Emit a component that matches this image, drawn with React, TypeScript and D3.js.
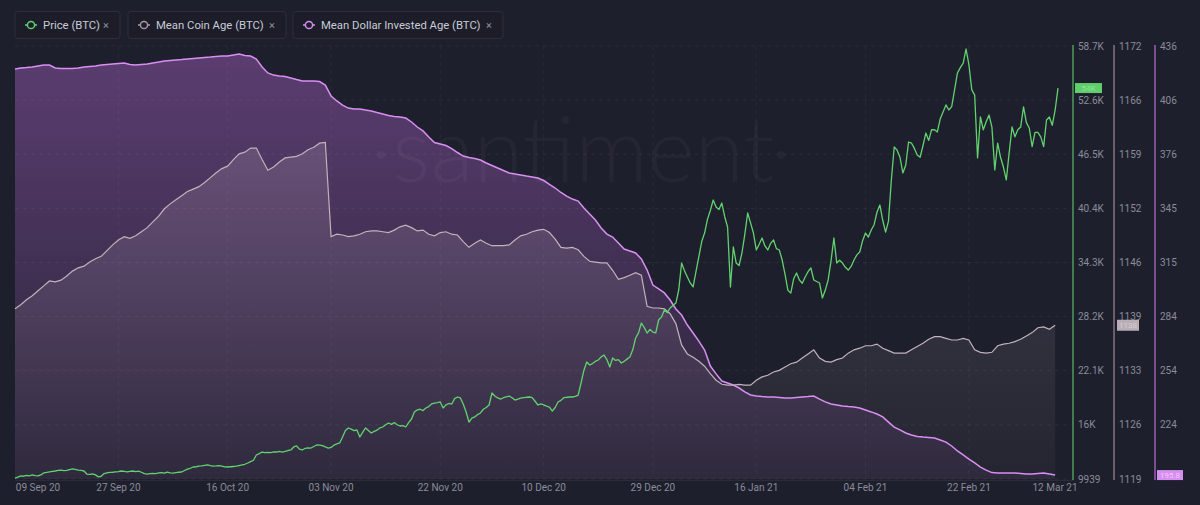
import React from "react";
import * as d3 from "d3";

// ---- DATA ----
const seriesStart = "2020-09-09"; // first sample (UTC)
// BTC price, thousands of USD, one sample every 12 hours from seriesStart
const priceK = [
  10.05,10.15,10.30,10.25,10.35,10.30,10.40,10.33,10.28,10.40,10.62,10.68,10.75,10.80,10.84,10.90,10.95,10.88,10.92,11.00,
  11.07,11.02,10.95,10.90,10.84,10.50,10.45,10.52,10.40,10.18,10.25,10.55,10.62,10.68,10.70,10.74,10.78,10.84,10.80,10.75,
  10.80,10.84,10.78,10.82,10.70,10.55,10.50,10.55,10.58,10.55,10.62,10.66,10.60,10.72,10.62,10.60,10.65,10.70,10.73,10.90,
  11.05,11.15,11.29,11.32,11.38,11.42,11.48,11.52,11.45,11.40,11.42,11.45,11.40,11.30,11.29,11.32,11.35,11.38,11.45,11.52,
  11.60,11.74,11.90,12.05,12.64,12.80,12.98,12.90,12.95,12.92,13.00,12.98,13.05,12.98,13.05,13.15,13.21,13.55,13.66,13.30,
  13.21,13.40,13.45,13.43,13.60,13.77,13.75,13.70,13.55,13.43,13.50,13.75,13.90,14.00,14.67,15.40,15.69,15.55,15.40,15.46,
  14.67,15.20,15.69,15.40,15.12,15.30,15.45,15.69,15.80,16.05,16.25,16.10,16.30,16.05,15.91,15.95,15.80,16.30,16.70,17.50,
  17.72,17.80,17.65,17.94,18.10,18.40,18.50,18.55,18.62,17.94,18.30,18.45,18.39,19.00,19.18,19.07,18.40,17.49,16.36,16.80,
  16.93,17.20,17.38,17.80,18.00,18.28,19.63,19.30,19.07,18.95,19.10,19.20,19.29,19.10,18.84,18.95,19.05,19.10,19.15,19.18,
  19.10,18.70,18.28,18.40,18.30,18.15,18.05,17.60,18.00,18.62,18.80,19.10,19.15,19.18,19.18,19.25,19.40,20.76,22.20,23.12,
  22.79,22.95,23.20,23.35,23.70,23.91,23.40,22.56,23.58,23.30,23.40,23.01,23.20,23.45,23.69,24.50,25.83,26.40,27.52,27.00,
  26.39,26.80,26.50,26.40,27.86,28.20,28.99,28.70,29.21,29.50,29.77,31.24,34.28,33.40,32.70,32.03,31.58,33.30,35.00,36.70,
  37.66,39.20,40.20,41.38,40.59,40.30,41.04,39.50,38.34,31.58,36.09,34.28,34.00,35.41,37.50,39.92,38.80,37.66,35.75,36.40,
  37.10,36.20,35.75,36.50,36.87,35.90,35.75,34.62,33.00,31.20,30.90,32.50,33.16,32.37,32.00,32.70,33.30,33.72,32.37,32.20,
  32.03,30.34,31.20,32.37,34.50,37.10,34.28,34.60,34.28,33.80,33.49,33.90,34.62,35.20,35.52,36.80,37.66,37.20,38.00,38.60,
  40.00,40.82,39.10,37.77,39.00,43.64,47.36,47.00,46.20,44.43,45.30,47.92,47.80,47.20,46.45,46.20,47.50,48.93,48.10,49.30,
  49.30,49.05,50.50,51.30,52.10,51.53,51.90,53.80,55.70,56.30,56.80,58.40,56.60,53.80,53.20,46.12,50.74,49.30,50.20,50.96,
  49.60,44.76,47.80,46.20,45.10,43.64,46.70,49.61,48.50,49.30,49.60,51.87,50.10,49.50,47.40,49.00,49.00,48.50,47.40,50.40,
  50.74,49.80,51.50,54.00,
];
// Mean Coin Age (days), daily from seriesStart
const meanCoinAge = [
  1140.1,1140.6,1141.2,1141.7,1142.3,1142.9,1143.5,1143.4,1143.6,1144.1,
  1144.7,1145.1,1145.3,1145.8,1146.2,1146.5,1147.2,1147.9,1148.5,1148.9,
  1148.7,1149.0,1149.5,1150.0,1150.7,1151.4,1152.3,1152.9,1153.4,1153.9,
  1154.4,1154.7,1155.0,1155.5,1156.1,1156.7,1157.2,1157.5,1158.3,1159.0,
  1159.2,1159.7,1159.7,1158.3,1157.0,1157.4,1158.0,1158.5,1158.6,1158.7,
  1159.0,1159.5,1159.8,1160.3,1160.4,1148.9,1149.2,1149.1,1148.9,1149.0,
  1149.2,1149.5,1149.6,1149.6,1149.5,1149.4,1149.7,1150.1,1150.3,1150.0,
  1149.6,1149.7,1149.2,1149.0,1149.4,1149.5,1149.2,1149.1,1148.3,1147.6,
  1148.1,1148.5,1148.1,1147.8,1147.8,1147.8,1147.9,1148.5,1149.0,1149.2,
  1149.5,1149.7,1149.8,1149.4,1148.6,1147.6,1147.5,1147.6,1147.3,1146.5,
  1145.9,1145.8,1145.7,1145.7,1144.8,1143.7,1143.9,1144.2,1144.5,1144.2,
  1140.4,1140.2,1140.2,1140.1,1139.5,1138.3,1135.7,1134.6,1134.2,1133.7,
  1133.1,1132.2,1131.4,1130.9,1130.8,1130.8,1130.9,1130.8,1130.8,1131.4,
  1131.8,1132.0,1132.4,1132.6,1133.0,1133.4,1133.6,1134.1,1134.6,1135.1,
  1134.1,1133.7,1133.6,1133.9,1134.1,1134.7,1135.1,1135.3,1135.6,1135.6,
  1135.8,1135.3,1135.0,1134.7,1134.7,1134.7,1135.1,1135.5,1135.9,1136.4,
  1136.7,1136.7,1136.5,1136.3,1136.3,1136.5,1136.3,1135.1,1134.8,1134.7,
  1134.8,1135.6,1135.8,1135.9,1136.1,1136.4,1136.8,1137.2,1137.8,1137.9,
  1137.6,1138.1,
];
// Mean Dollar Invested Age (days), daily from seriesStart
const meanDollarInvestedAge = [
  423.4,424.0,424.2,424.5,425.1,425.6,425.6,424.0,423.7,423.7,
  423.7,424.0,424.5,424.8,425.1,425.6,425.9,426.2,426.5,426.8,
  425.9,425.6,425.9,426.2,426.8,427.3,427.9,428.2,428.5,428.7,
  429.0,429.3,429.6,429.9,430.1,430.4,430.7,430.7,431.3,431.8,
  431.0,430.7,429.0,424.5,421.2,420.0,419.5,419.2,418.4,417.5,
  416.7,416.7,416.7,416.4,414.4,408.3,405.5,403.2,401.5,401.0,
  401.0,400.4,399.9,399.0,398.2,397.3,396.8,396.5,395.9,393.7,
  390.9,388.7,385.3,382.2,381.4,380.5,378.8,376.6,374.6,373.8,
  373.2,372.4,370.7,369.3,367.9,366.5,365.1,364.6,364.0,363.4,
  362.9,362.3,360.9,358.7,356.7,354.2,352.2,350.5,349.4,345.5,
  342.1,338.8,334.3,330.9,329.2,325.9,322.5,321.4,320.3,316.9,
  310.7,302.3,300.1,297.9,293.9,288.9,285.5,279.9,275.4,270.9,
  265.9,256.9,252.5,248.5,247.4,246.3,244.6,242.4,240.7,240.1,
  239.8,239.6,239.6,239.3,239.0,239.0,239.3,239.6,239.8,240.1,
  238.4,236.8,235.6,235.1,234.5,234.2,234.0,233.4,232.3,231.2,
  230.0,228.4,225.5,222.7,221.1,219.4,218.3,217.4,217.1,216.9,
  216.6,215.5,214.3,212.1,209.3,207.1,204.8,202.6,200.3,198.6,
  197.2,197.0,197.0,197.0,197.0,196.7,196.4,196.4,196.7,197.0,
  196.4,195.8,
];
const xTickDates = ["2020-09-09","2020-09-27","2020-10-16","2020-11-03","2020-11-22","2020-12-10","2020-12-29","2021-01-16","2021-02-04","2021-02-22","2021-03-12"];
const xTickLabels = ["09 Sep 20","27 Sep 20","16 Oct 20","03 Nov 20","22 Nov 20","10 Dec 20","29 Dec 20","16 Jan 21","04 Feb 21","22 Feb 21","12 Mar 21"];
const priceDomain = [9939, 58739];
const priceTickLabels = ["9939","16K","22.1K","28.2K","34.3K","40.4K","46.5K","52.6K","58.7K"];
const mcaDomain = [1119.35, 1172.15];
const mcaTickLabels = ["1119","1126","1133","1139","1146","1152","1159","1166","1172"];
const mdiaDomain = [193.6, 436.3];
// lowest tick sits under the last-value badge, so it has no visible label
const mdiaTickLabels = ["","224","254","284","315","345","376","406","436"];
const legendItems = ["Price (BTC)", "Mean Coin Age (BTC)", "Mean Dollar Invested Age (BTC)"];
const lastLabels = ["54K", "1138", "195.8"];

// ---- STYLE ----
const BG = "#1e1f2c";
const GREEN = "#62d26f";
const GRAY = "#c2b2bc";
const PURPLE = "#d98ff2";
const TICK = "#8a8c99";
const FONT = "Roboto, 'Noto Sans', sans-serif";

export default function App() {
  const W = 1200, H = 505;
  const left = 15, right = 1058, top = 46, bottom = 479;
  const parse = d3.utcParse("%Y-%m-%d");
  const t0 = (parse(seriesStart) as Date).getTime();
  const HOUR = 3600e3;
  const x = d3.scaleUtc()
    .domain([new Date(t0), new Date(t0 + 181.5 * 24 * HOUR)])
    .range([left, right]);
  const yP = d3.scaleLinear().domain(priceDomain).range([bottom, top]);
  const yC = d3.scaleLinear().domain(mcaDomain).range([bottom, top]);
  const yD = d3.scaleLinear().domain(mdiaDomain).range([bottom, top]);

  const price = priceK.map((v, i) => ({ t: new Date(t0 + i * 12 * HOUR), v: v * 1000 }));
  const mca = meanCoinAge.map((v, i) => ({ t: new Date(t0 + i * 24 * HOUR), v }));
  const mdia = meanDollarInvestedAge.map((v, i) => ({ t: new Date(t0 + i * 24 * HOUR), v }));

  type P = { t: Date; v: number };
  const lineP = d3.line<P>().x(d => x(d.t)).y(d => yP(d.v));
  const lineC = d3.line<P>().x(d => x(d.t)).y(d => yC(d.v));
  const lineD = d3.line<P>().x(d => x(d.t)).y(d => yD(d.v));
  const areaC = d3.area<P>().x(d => x(d.t)).y0(bottom).y1(d => yC(d.v));
  const areaD = d3.area<P>().x(d => x(d.t)).y0(bottom).y1(d => yD(d.v));

  const lin = (dom: number[], n: number) => d3.range(n).map(i => dom[0] + (i * (dom[1] - dom[0])) / (n - 1));
  const pTicks = lin(priceDomain, priceTickLabels.length);
  const cTicks = lin(mcaDomain, mcaTickLabels.length);
  const dTicks = lin(mdiaDomain, mdiaTickLabels.length);
  const xTicks = xTickDates.map(s => parse(s) as Date);

  const axGreen = 1073, axGray = 1114, axPurple = 1155;

  const legendBoxes = [
    { x: 15, w: 105, color: GREEN },
    { x: 128, w: 158, color: "#a8989f" },
    { x: 293, w: 210, color: PURPLE },
  ];

  const lastP = price[price.length - 1];
  const lastC = mca[mca.length - 1];
  const lastD = mdia[mdia.length - 1];

  return (
    <svg width={W} height={H} style={{ position: "fixed", left: 0, top: 0, display: "block" }} fontFamily={FONT}>
      <defs>
        <linearGradient id="gD" gradientUnits="userSpaceOnUse" x1="0" y1={top} x2="0" y2={bottom}>
          <stop offset="0" stopColor="#82509c" stopOpacity={0.62} />
          <stop offset="1" stopColor="#82509c" stopOpacity={0.1} />
        </linearGradient>
        <linearGradient id="gC" gradientUnits="userSpaceOnUse" x1="0" y1={top + 90} x2="0" y2={bottom}>
          <stop offset="0" stopColor="#c8b4c4" stopOpacity={0.2} />
          <stop offset="1" stopColor="#c8b4c4" stopOpacity={0.04} />
        </linearGradient>
      </defs>
      <rect x={0} y={0} width={W} height={H} fill={BG} />

      {/* legend */}
      {legendItems.map((name, i) => {
        const b = legendBoxes[i];
        const cx = b.x + 16;
        return (
          <g key={name}>
            <rect x={b.x} y={11.5} width={b.w} height={27} rx={3} fill="#1c1d29" stroke="#2c2e3c" />
            <line x1={cx - 6} x2={cx + 6} y1={25} y2={25} stroke={b.color} strokeWidth={1.5} />
            <circle cx={cx} cy={25} r={3.6} fill="#1c1d29" stroke={b.color} strokeWidth={1.5} />
            <text x={b.x + 28} y={29} fontSize={11.3} fill="#c9cbd5">{name}</text>
            <text x={b.x + b.w - 14} y={28.5} fontSize={11} fill="#8d8f9c" textAnchor="middle">×</text>
          </g>
        );
      })}

      {/* areas */}
      <path d={areaD(mdia) || ""} fill="url(#gD)" />
      <path d={areaC(mca) || ""} fill="url(#gC)" />

      {/* watermark */}
      <g fill="#ffffff" fillOpacity={0.035}>
        <circle cx={381} cy={155} r={4} />
        <text x={392} y={182} fontSize={90} fontWeight={300} fontFamily="Lato, Roboto, sans-serif">santiment</text>
        <circle cx={781} cy={155} r={4} />
      </g>

      {/* grid */}
      {pTicks.map((t, i) => (
        <line key={"gy" + i} x1={left} x2={axGreen} y1={yP(t)} y2={yP(t)} stroke="#ffffff" strokeOpacity={0.06} strokeDasharray="4,4" />
      ))}
      {xTicks.slice(1, -1).map((d, i) => (
        <line key={"gx" + i} x1={x(d)} x2={x(d)} y1={top} y2={bottom} stroke="#ffffff" strokeOpacity={0.05} strokeDasharray="4,4" />
      ))}

      {/* lines */}
      <path d={lineD(mdia) || ""} fill="none" stroke={PURPLE} strokeWidth={1.5} />
      <path d={lineC(mca) || ""} fill="none" stroke={GRAY} strokeWidth={1.2} />
      <path d={lineP(price) || ""} fill="none" stroke={GREEN} strokeWidth={1.3} strokeLinejoin="round" />

      {/* right axes */}
      <line x1={axGreen} x2={axGreen} y1={top - 1} y2={bottom + 1} stroke="#4f9d5a" strokeWidth={1.5} />
      <line x1={axGray} x2={axGray} y1={top - 1} y2={bottom + 1} stroke="#85747e" strokeWidth={1.5} />
      <line x1={axPurple} x2={axPurple} y1={top - 1} y2={bottom + 1} stroke="#9a5fb2" strokeWidth={1.5} />
      {pTicks.map((t, i) => (
        <text key={"pt" + i} x={axGreen + 5} y={yP(t) + 3.5} fontSize={10} fill={TICK}>{priceTickLabels[i]}</text>
      ))}
      {cTicks.map((t, i) => (
        <text key={"ct" + i} x={axGray + 5} y={yC(t) + 3.5} fontSize={10} fill={TICK}>{mcaTickLabels[i]}</text>
      ))}
      {dTicks.map((t, i) => mdiaTickLabels[i] ? (
        <text key={"dt" + i} x={axPurple + 5} y={yD(t) + 3.5} fontSize={10} fill={TICK}>{mdiaTickLabels[i]}</text>
      ) : null)}

      {/* last value badges */}
      <rect x={axGreen + 2} y={yP(lastP.v) - 5} width={27} height={10} fill="#5fcf6b" />
      <text x={axGreen + 15.5} y={yP(lastP.v) + 3} fontSize={8} fill="#8fe29a" textAnchor="middle">{lastLabels[0]}</text>
      <rect x={axGray + 3} y={yC(lastC.v) - 5.5} width={22} height={11} fill="#b9aeb6" />
      <text x={axGray + 14} y={yC(lastC.v) + 3} fontSize={8} fill="#d6ced4" textAnchor="middle">{lastLabels[1]}</text>
      <rect x={axPurple + 2} y={yD(lastD.v) - 5} width={26} height={10} fill="#d68ef0" />
      <text x={axPurple + 15} y={yD(lastD.v) + 3} fontSize={8} fill="#f3c8ff" textAnchor="middle">{lastLabels[2]}</text>

      {/* x axis */}
      <line x1={left} x2={axGreen} y1={bottom + 1.5} y2={bottom + 1.5} stroke="#ffffff" strokeOpacity={0.06} />
      {xTicks.map((d, i) => {
        const cx = Math.max(38, Math.min(1055, x(d)));
        return (
          <text key={"xt" + i} x={cx} y={491} fontSize={10} fill={TICK} textAnchor="middle">{xTickLabels[i]}</text>
        );
      })}
    </svg>
  );
}
